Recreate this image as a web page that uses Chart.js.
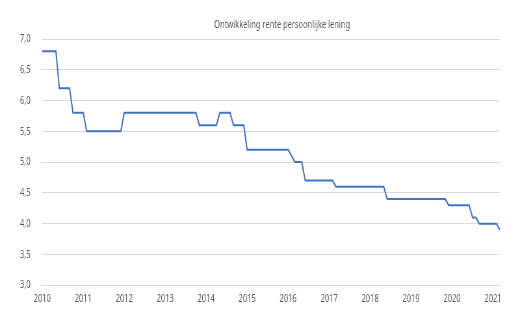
<!DOCTYPE html>
<html>
<head>
<meta charset="utf-8">
<script src="https://cdn.jsdelivr.net/npm/chart.js"></script>
<style>
  html, body { margin: 0; padding: 0; background: #fff; overflow: hidden; }
  /* chart is laid out wide and squeezed horizontally, giving the narrow lettering */
  #wrap { width: 797px; height: 325px; transform: scaleX(0.65); transform-origin: 0 0; }
</style>
</head>
<body>
<div id="wrap"><canvas id="rente-chart"></canvas></div>
<script>
  const title = "Ontwikkeling rente persoonlijke lening";
  const years = [2010, 2011, 2012, 2013, 2014, 2015, 2016, 2017, 2018, 2019, 2020, 2021];

  // monthly rate (%), one row per year, Jan..Dec
  const rates = [
    6.8, 6.8, 6.8, 6.8, 6.8, 6.2, 6.2, 6.2, 6.2, 5.8, 5.8, 5.8, // 2010
    5.8, 5.5, 5.5, 5.5, 5.5, 5.5, 5.5, 5.5, 5.5, 5.5, 5.5, 5.5, // 2011
    5.8, 5.8, 5.8, 5.8, 5.8, 5.8, 5.8, 5.8, 5.8, 5.8, 5.8, 5.8, // 2012
    5.8, 5.8, 5.8, 5.8, 5.8, 5.8, 5.8, 5.8, 5.8, 5.8, 5.6, 5.6, // 2013
    5.6, 5.6, 5.6, 5.6, 5.8, 5.8, 5.8, 5.8, 5.6, 5.6, 5.6, 5.6, // 2014
    5.2, 5.2, 5.2, 5.2, 5.2, 5.2, 5.2, 5.2, 5.2, 5.2, 5.2, 5.2, // 2015
    5.2, 5.1, 5.0, 5.0, 5.0, 4.7, 4.7, 4.7, 4.7, 4.7, 4.7, 4.7, // 2016
    4.7, 4.7, 4.6, 4.6, 4.6, 4.6, 4.6, 4.6, 4.6, 4.6, 4.6, 4.6, // 2017
    4.6, 4.6, 4.6, 4.6, 4.6, 4.4, 4.4, 4.4, 4.4, 4.4, 4.4, 4.4, // 2018
    4.4, 4.4, 4.4, 4.4, 4.4, 4.4, 4.4, 4.4, 4.4, 4.4, 4.4, 4.3, // 2019
    4.3, 4.3, 4.3, 4.3, 4.3, 4.3, 4.1, 4.1, 4.0, 4.0, 4.0, 4.0, // 2020
    4.0, 4.0, 3.9                                               // 2021
  ];

  // month labels "2010-01" ... for every rate
  const months = [];
  years.forEach(y => {
    for (let m = 1; m <= 12; m++) months.push(y + "-" + String(m).padStart(2, "0"));
  });
  months.length = rates.length;

  const textColor = "#595959";
  const gridColor = "#d9d9d9";
  const font = { family: "'Noto Sans', sans-serif", size: 11.5 };

  // title sits a bit right of the plot centre
  const titlePlugin = {
    id: "topTitle",
    afterDraw(chart) {
      const ctx = chart.ctx;
      ctx.save();
      ctx.font = "11.5px 'Noto Sans', sans-serif";
      ctx.fillStyle = textColor;
      ctx.textAlign = "center";
      ctx.textBaseline = "middle";
      ctx.fillText(title, 434, 25);
      ctx.restore();
    }
  };

  const ctx = document.getElementById("rente-chart").getContext("2d");
  const renteChart = new Chart(ctx, {
    type: "line",
    data: {
      labels: months,
      datasets: [
        {
          label: title,
          data: rates,
          borderColor: "#4472c4",
          borderWidth: 2,
          pointRadius: 0,
          tension: 0,
          fill: false,
        },
      ],
    },
    options: {
      responsive: true,
      maintainAspectRatio: false,
      animation: false,
      layout: { padding: { top: 39, left: 0, right: 28, bottom: 12 } },
      plugins: {
        legend: { display: false },
        title: { display: false },
        tooltip: { enabled: false },
      },
      scales: {
        x: {
          grid: { display: false, drawTicks: false },
          border: { display: false },
          ticks: {
            autoSkip: false,
            maxRotation: 0,
            padding: 7,
            color: textColor,
            font: font,
            callback: function (val, idx) {
              const lab = months[idx];
              return lab.endsWith("-01") ? lab.slice(0, 4) : "";
            },
          },
        },
        y: {
          min: 3,
          max: 7,
          border: { display: false },
          grid: { color: gridColor, drawTicks: false, lineWidth: 1 },
          afterFit: scale => { scale.width = 65; },
          ticks: {
            stepSize: 0.5,
            padding: 18,
            color: textColor,
            font: font,
            callback: v => v.toFixed(1).replace(".", ","),
          },
        },
      },
    },
    plugins: [titlePlugin],
  });
</script>
</body>
</html>
